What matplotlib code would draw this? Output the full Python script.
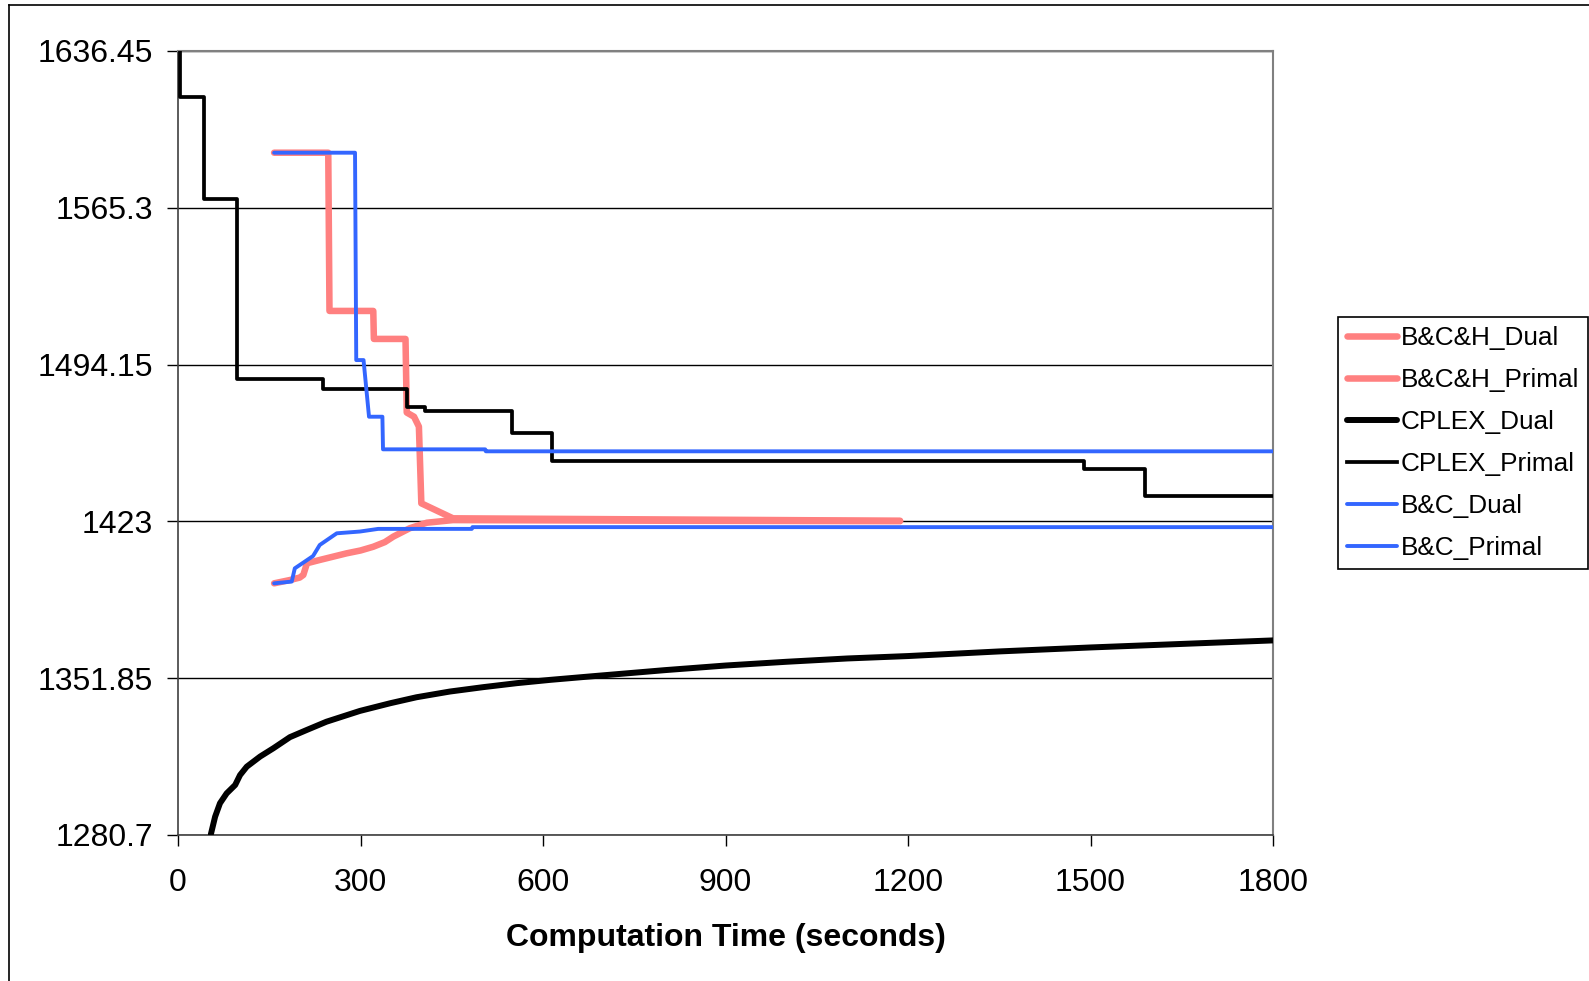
import matplotlib
matplotlib.use("Agg")
import matplotlib.pyplot as plt
from matplotlib.lines import Line2D

plt.rcParams['font.family'] = ['Liberation Sans', 'DejaVu Sans']

# ---- data ----
yticks = [1280.7, 1351.85, 1423, 1494.15, 1565.3, 1636.45]
ytick_labels = ["1280.7", "1351.85", "1423", "1494.15", "1565.3", "1636.45"]
xticks = [0, 300, 600, 900, 1200, 1500, 1800]

bch_dual_t = [158, 184, 200, 206, 212, 233, 255, 277, 300, 321, 340, 354, 381, 409, 452, 800, 1187]
bch_dual_v = [1394.9, 1396.4, 1397.5, 1398.7, 1404.0, 1405.5, 1407.0, 1408.5, 1409.8, 1411.5, 1413.6, 1416.1, 1419.9, 1422.4, 1423.6, 1423.3, 1423.1]

bch_primal_t = [158, 247, 249, 321, 322, 374, 376, 388, 396, 400, 452, 1187]
bch_primal_v = [1590.3, 1590.3, 1518.5, 1518.5, 1505.8, 1505.8, 1472.4, 1470.5, 1466.0, 1431.2, 1424.4, 1423.3]

cplex_dual_t = [54, 61, 69, 80, 94, 102, 113, 135, 157, 184, 212, 244, 299, 349, 392, 447,
                502, 557, 612, 688, 800, 900, 1000, 1100, 1200, 1350, 1500, 1650, 1800]
cplex_dual_v = [1281.0, 1289.0, 1295.1, 1299.6, 1303.4, 1307.9, 1311.7, 1316.3, 1320.1, 1325.1,
                1328.4, 1332.1, 1337.0, 1340.5, 1343.2, 1345.8, 1347.8, 1349.6, 1351.1, 1352.9,
                1355.5, 1357.6, 1359.3, 1360.8, 1361.9, 1364.0, 1365.8, 1367.4, 1369.0]

cplex_primal_t = [3, 3, 42, 97, 238, 376, 406, 549, 614, 1490, 1590, 1800]
cplex_primal_v = [1636.45, 1615.7, 1569.3, 1487.8, 1483.0, 1474.8, 1473.3, 1463.3, 1450.4, 1446.8, 1434.4, 1434.4]

bc_dual_t = [158, 187, 192, 206, 222, 233, 261, 299, 329, 483, 484, 1800]
bc_dual_v = [1394.9, 1395.7, 1401.7, 1404.3, 1407.3, 1412.3, 1417.6, 1418.4, 1419.6, 1419.6, 1420.4, 1420.4]

bc_primal_t = [158, 291, 293, 305, 314, 336, 337, 505, 506, 1800]
bc_primal_v = [1590.3, 1590.3, 1496.2, 1496.2, 1470.5, 1470.5, 1455.7, 1455.7, 1454.8, 1454.8]

PINK = "#FF8080"
BLUE = "#3366FF"

fig = plt.figure(figsize=(15.89, 9.81), dpi=100)
ax = fig.add_axes([178/1589, 1-835/981, (1273-178)/1589, (835-51)/981])

# outer chart border (left & top)
fig.add_artist(Line2D([9/1589, 9/1589], [0, 1-5/981], transform=fig.transFigure, color="black", lw=1.2))
fig.add_artist(Line2D([9/1589, 1], [1-5/981, 1-5/981], transform=fig.transFigure, color="black", lw=1.2))

ax.plot(bch_dual_t, bch_dual_v, color=PINK, lw=4.7, label="B&C&H_Dual", solid_capstyle="round", zorder=3)
ax.plot(bch_primal_t, bch_primal_v, color=PINK, lw=4.7, label="B&C&H_Primal", solid_capstyle="round", zorder=3)
ax.plot(cplex_dual_t, cplex_dual_v, color="black", lw=4.3, label="CPLEX_Dual", solid_capstyle="round", zorder=4)
ax.step(cplex_primal_t, cplex_primal_v, where="post", color="black", lw=2.7, label="CPLEX_Primal", zorder=4)
ax.plot(bc_dual_t, bc_dual_v, color=BLUE, lw=2.8, label="B&C_Dual", solid_capstyle="round", zorder=5)
ax.plot(bc_primal_t, bc_primal_v, color=BLUE, lw=2.8, label="B&C_Primal", solid_capstyle="round", zorder=5)

ax.set_xlim(0, 1800)
ax.set_ylim(1280.7, 1636.45)
ax.set_xticks(xticks)
ax.set_xticklabels([str(x) for x in xticks])
ax.set_yticks(yticks)
ax.set_yticklabels(ytick_labels)
ax.yaxis.grid(True, color="black", lw=1.0)
ax.set_axisbelow(True)
ax.tick_params(axis="both", direction="out", length=8, width=1, labelsize=23, colors="black")
ax.tick_params(axis="y", pad=10)
ax.tick_params(axis="x", pad=16)

for s in ["top", "right"]:
    ax.spines[s].set_color("#808080")
    ax.spines[s].set_linewidth(1.5)
for s in ["left", "bottom"]:
    ax.spines[s].set_color("#404040")
    ax.spines[s].set_linewidth(1.2)

ax.set_xlabel("Computation Time (seconds)", fontsize=23, fontweight="bold", labelpad=18)

leg = ax.legend(loc="upper left", bbox_to_anchor=(1338/1589, 1-317/981), bbox_transform=fig.transFigure,
                fontsize=18.8, frameon=True, fancybox=False, framealpha=1, edgecolor="black",
                handlelength=1.9, handletextpad=0.15, labelspacing=0.69, borderpad=0.35, borderaxespad=0)
leg.get_frame().set_linewidth(1.2)

fig.savefig("out.png", dpi=100, facecolor="white")
